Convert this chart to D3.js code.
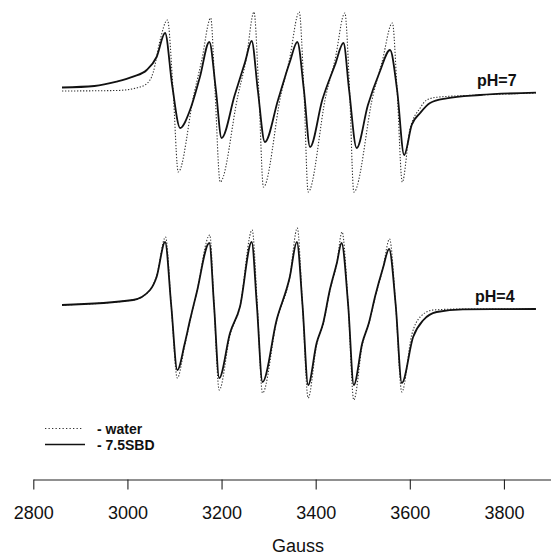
<!DOCTYPE html>
<html>
<head>
<meta charset="utf-8">
<script src="https://cdn.jsdelivr.net/npm/d3@7"></script>
<style>
  body { margin: 0; background: #fff; }
  svg { display: block; }
  .tick text { font-family: "Liberation Sans", Arial, sans-serif; font-size: 18px; fill: #111; }
  .label { font-family: "Liberation Sans", Arial, sans-serif; font-weight: bold; font-size: 16px; fill: #111; }
  .legend { font-family: "Liberation Sans", Arial, sans-serif; font-weight: bold; font-size: 14px; fill: #111; }
</style>
</head>
<body>
<div id="chart"></div>
<script>
// -----------------------------------------------------------------------------
// Data: [field (Gauss), signal (a.u., baseline = 0)]
// -----------------------------------------------------------------------------

var tickValues = [2800, 3000, 3200, 3400, 3600, 3800];

var ph7Water = [
  [2861, -1], [2977, -0.5], [3027, 3], [3048, 10], [3055, 18], [3068, 47], [3085, 70],
  [3097, 0], [3108, -82], [3141, -5], [3158, 30], [3177, 72],
  [3186, 0], [3197, -92], [3235, -5], [3252, 30], [3269, 78],
  [3279, 0], [3289, -97], [3326, -5], [3344, 30], [3365, 78],
  [3375, 0], [3384, -102], [3422, -5], [3441, 30], [3462, 77],
  [3472, 0], [3481, -102], [3522, -5], [3541, 28], [3563, 67],
  [3573, 0], [3584, -92], [3600, -40], [3622, -18], [3636, -10], [3657, -7.3],
  [3749, -5], [3868, -3]
];

var ph7Sbd = [
  [2861, 2.5], [2930, 4], [2977, 8.3], [3012, 13.3], [3041, 20], [3062, 33], [3080, 57],
  [3095, 5], [3112, -38], [3133, -20], [3154, 13], [3174, 48],
  [3188, 0], [3200, -48], [3228, -5], [3250, 28], [3264, 49],
  [3277, 0], [3292, -52], [3320, -10], [3345, 28], [3361, 48],
  [3375, 0], [3388, -57], [3414, -10], [3441, 25], [3459, 47],
  [3471, 0], [3487, -58], [3511, -15], [3536, 18], [3558, 40],
  [3573, 0], [3588, -65], [3604, -35], [3622, -23], [3643, -13], [3678, -8.3],
  [3749, -5], [3868, -2.7]
];

var ph4Water = [
  [2861, 0], [3012, 5], [3048, 15], [3062, 29], [3081, 68],
  [3093, 0], [3106, -73], [3122, -40], [3133, -16], [3147, 12], [3175, 70],
  [3184, 0], [3195, -85], [3218, -30], [3239, -2], [3265, 75],
  [3276, 0], [3287, -88], [3317, -16], [3345, 28], [3361, 77],
  [3372, 0], [3384, -93], [3402, -40], [3416, -19], [3430, 14], [3445, 42], [3456, 73],
  [3469, 0], [3481, -95], [3499, -40], [3513, -19], [3527, 9], [3543, 37], [3557, 66],
  [3570, 0], [3583, -87], [3604, -30], [3622, -12], [3650, -5], [3713, -4], [3868, -4]
];

var ph4Sbd = [
  [2861, 0], [3012, 5], [3048, 15], [3062, 28], [3080, 63],
  [3093, 0], [3106, -65], [3122, -38], [3133, -15], [3147, 12], [3174, 62],
  [3184, 0], [3195, -73], [3218, -28], [3239, -2], [3264, 63],
  [3275, 0], [3287, -77], [3317, -15], [3345, 28], [3360, 63],
  [3372, 0], [3384, -80], [3402, -38], [3416, -18], [3430, 15], [3445, 42], [3455, 62],
  [3469, 0], [3481, -80], [3499, -38], [3513, -18], [3527, 10], [3543, 37], [3556, 56],
  [3570, 0], [3583, -78], [3607, -32], [3629, -15], [3657, -7], [3713, -4.3], [3868, -4]
];

var spectra = [
  {name: "pH=7", offset: 215, water: ph7Water, sbd: ph7Sbd},
  {name: "pH=4", offset: 0, water: ph4Water, sbd: ph4Sbd}
];

var legendItems = [
  {label: "- water", dotted: true},
  {label: "- 7.5SBD", dotted: false}
];

// -----------------------------------------------------------------------------
// Chart
// -----------------------------------------------------------------------------

var W = 551, H = 557;

var svg = d3.select("#chart").append("svg")
    .attr("width", W)
    .attr("height", H);

var xScale = d3.scaleLinear()
    .domain([2800, 3900])
    .range([33.3, 551]);

var yScale = d3.scaleLinear()
    .domain([-175, 305])
    .range([480, 0]);

function makeLine(offset) {
  return d3.line()
      .curve(d3.curveMonotoneX)
      .x(function(d) { return xScale(d[0]); })
      .y(function(d) { return yScale(d[1] + offset); });
}

spectra.forEach(function(s) {
  var line = makeLine(s.offset);

  svg.append("path")
      .datum(s.water)
      .attr("fill", "none")
      .attr("stroke", "#333")
      .attr("stroke-width", 1.1)
      .attr("stroke-dasharray", "1.3,1.7")
      .attr("d", line);

  svg.append("path")
      .datum(s.sbd)
      .attr("fill", "none")
      .attr("stroke", "#111")
      .attr("stroke-width", 1.8)
      .attr("stroke-linejoin", "round")
      .attr("d", line);
});

// pH labels
svg.append("text")
    .attr("class", "label")
    .attr("x", 477)
    .attr("y", 86)
    .text(spectra[0].name);

svg.append("text")
    .attr("class", "label")
    .attr("x", 475)
    .attr("y", 302)
    .text(spectra[1].name);

// legend
legendItems.forEach(function(item, i) {
  var y = 428.5 + i * 16;
  svg.append("line")
      .attr("x1", 45).attr("x2", item.dotted ? 82 : 85)
      .attr("y1", y).attr("y2", y)
      .attr("stroke", item.dotted ? "#333" : "#111")
      .attr("stroke-width", item.dotted ? 1 : 1.3)
      .attr("stroke-dasharray", item.dotted ? "1.3,2.2" : null);
  svg.append("text")
      .attr("class", "legend")
      .attr("x", 97)
      .attr("y", y + 5)
      .text(item.label);
});

// x axis
var xAxis = svg.append("g")
    .attr("transform", "translate(0,479.5)")
    .call(d3.axisBottom(xScale)
        .tickValues(tickValues)
        .tickSize(10)
        .tickSizeOuter(0)
        .tickPadding(17)
        .tickFormat(d3.format("d")));

xAxis.select(".domain").attr("stroke", "#222").attr("stroke-width", 1.2);
xAxis.selectAll(".tick line").attr("stroke", "#222").attr("stroke-width", 1.1);

svg.append("text")
    .attr("x", 298)
    .attr("y", 552)
    .attr("text-anchor", "middle")
    .style("font-family", "'Liberation Sans', Arial, sans-serif")
    .style("font-size", "18px")
    .style("fill", "#111")
    .text("Gauss");
</script>
</body>
</html>
